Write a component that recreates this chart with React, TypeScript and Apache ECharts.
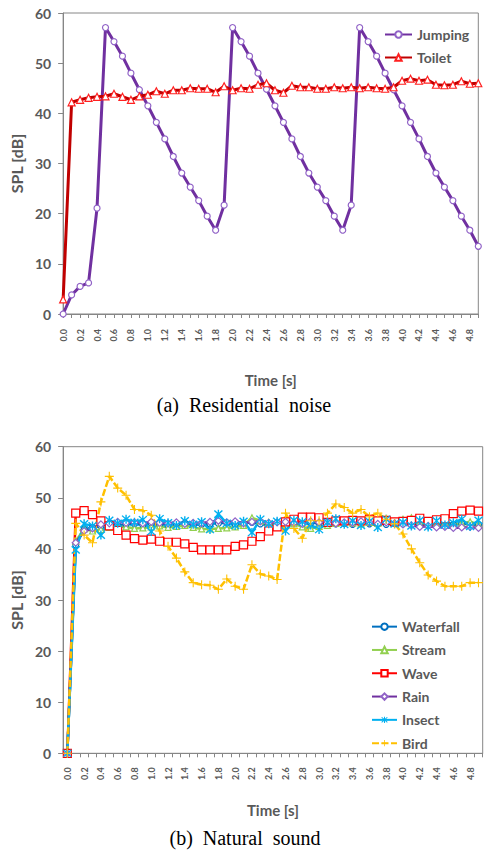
import React, { useEffect, useRef } from 'react';
import * as echarts from 'echarts';

// Time axis categories (seconds)
const timeLabels = [
  '0.0', '0.1', '0.2', '0.3', '0.4', '0.5', '0.6', '0.7', '0.8', '0.9',
  '1.0', '1.1', '1.2', '1.3', '1.4', '1.5', '1.6', '1.7', '1.8', '1.9',
  '2.0', '2.1', '2.2', '2.3', '2.4', '2.5', '2.6', '2.7', '2.8', '2.9',
  '3.0', '3.1', '3.2', '3.3', '3.4', '3.5', '3.6', '3.7', '3.8', '3.9',
  '4.0', '4.1', '4.2', '4.3', '4.4', '4.5', '4.6', '4.7', '4.8', '4.9',
];

// (a) Residential noise, SPL in dB
const jumping = [
  0, 3.8, 5.5, 6.2, 21.1, 57.1, 54.3, 51.4, 48.0, 44.7,
  41.5, 38.2, 34.9, 31.4, 28.1, 25.3, 22.6, 19.5, 16.7, 21.7,
  57.1, 54.3, 51.4, 48.0, 44.8, 41.5, 38.2, 34.9, 31.4, 28.1,
  25.3, 22.6, 19.5, 16.7, 21.7, 57.1, 54.3, 51.4, 48.0, 44.7,
  41.5, 38.2, 34.9, 31.4, 28.1, 25.3, 22.6, 19.5, 16.7, 13.5,
];
const toilet = [
  2.9, 42.2, 42.7, 43.1, 43.3, 43.4, 43.9, 43.3, 42.7, 43.4,
  43.7, 44.4, 43.9, 44.6, 44.6, 45.0, 44.9, 44.9, 44.2, 45.4,
  44.6, 45.0, 44.9, 45.7, 46.0, 44.6, 44.1, 45.5, 45.2, 45.2,
  44.9, 44.9, 45.2, 45.0, 45.2, 45.0, 45.2, 45.0, 44.9, 45.2,
  46.5, 46.9, 46.5, 46.7, 45.7, 45.6, 45.7, 46.4, 45.9, 46.0,
];

// (b) Natural sound, SPL in dB
const waterfall = [
  0, 40.8, 43.8, 44.2, 44.5, 45.0, 44.6, 44.8, 44.9, 44.7,
  45.0, 44.8, 44.6, 44.9, 45.0, 44.7, 44.8, 44.9, 45.0, 45.1,
  44.8, 45.0, 45.2, 44.9, 44.6, 44.8, 45.2, 45.0, 44.9, 45.1,
  45.0, 45.2, 44.9, 45.0, 44.8, 45.1, 44.9, 45.0, 44.8, 45.0,
  44.9, 44.8, 44.7, 44.9, 44.6, 44.8, 44.7, 44.9, 44.8, 44.7,
];
const stream = [
  0, 41.5, 43.9, 43.5, 43.8, 44.2, 44.4, 44.3, 44.0, 44.1,
  44.3, 44.5, 44.2, 44.4, 44.6, 44.2, 43.9, 43.9, 44.0, 44.1,
  44.3, 44.6, 46.1, 45.5, 45.2, 44.8, 45.6, 44.9, 44.3, 44.0,
  44.4, 44.6, 45.0, 45.3, 45.1, 44.9, 45.2, 45.0, 45.4, 45.3,
  45.8, 46.1, 45.5, 45.3, 45.0, 45.2, 44.9, 45.0, 45.3, 44.8,
];
const wave = [
  0, 47.0, 47.5, 46.7, 45.5, 44.5, 43.6, 42.7, 42.0, 41.7,
  41.9, 41.5, 41.3, 41.3, 41.0, 40.3, 39.8, 39.8, 39.8, 39.8,
  40.5, 40.8, 41.5, 42.4, 43.5, 44.3, 45.3, 45.8, 46.2, 46.2,
  46.1, 45.2, 45.5, 45.5, 45.6, 45.5, 45.8, 45.5, 45.6, 45.3,
  45.4, 45.6, 46.0, 45.4, 45.7, 45.9, 46.9, 47.4, 47.6, 47.4,
];
const rain = [
  0, 41.2, 43.5, 44.0, 44.8, 45.0, 45.3, 45.1, 45.2, 45.0,
  45.3, 45.1, 45.0, 45.2, 44.9, 45.1, 45.0, 45.3, 45.5, 45.2,
  45.4, 45.0, 45.3, 45.4, 45.1, 45.2, 45.3, 45.1, 44.9, 45.4,
  45.2, 45.3, 45.0, 45.2, 45.1, 45.4, 45.2, 44.9, 45.2, 45.0,
  44.8, 44.6, 44.3, 44.5, 44.2, 44.3, 44.1, 44.2, 44.3, 44.1,
];
const insect = [
  0, 39.8, 44.9, 44.5, 42.7, 45.6, 45.0, 45.8, 45.2, 45.7,
  43.4, 45.9, 45.1, 44.6, 45.5, 44.8, 45.3, 43.8, 46.8, 45.0,
  44.6, 45.4, 43.2, 45.8, 44.9, 45.4, 43.5, 45.6, 45.3, 44.7,
  43.8, 45.2, 45.9, 44.8, 45.5, 44.6, 45.4, 44.2, 45.8, 44.9,
  45.2, 44.5, 45.6, 44.3, 45.5, 44.7, 45.1, 45.8, 44.4, 45.6,
];
const bird = [
  0, 45.0, 42.7, 41.2, 49.2, 54.2, 51.9, 50.5, 47.7, 47.5,
  46.6, 43.5, 40.5, 38.2, 35.5, 33.4, 33.0, 32.9, 32.1, 34.1,
  32.7, 32.1, 36.9, 35.1, 34.7, 34.0, 47.0, 44.0, 42.1, 45.5,
  45.5, 47.0, 48.8, 48.1, 47.0, 47.7, 46.3, 47.0, 45.8, 44.9,
  42.9, 40.0, 37.3, 34.9, 33.7, 32.7, 32.7, 32.7, 33.4, 33.4,
];

const textGray = '#595959';
const lineGray = '#868686';
const sans = 'Lato, "Noto Sans", sans-serif';
const serif = '"Liberation Serif", "Times New Roman", serif';

// Filled star marker: one vertical bar and two diagonal bars, same winding
const asteriskSymbol =
  'path://M4.3,0L5.7,0L5.7,10L4.3,10Z' +
  'M0.5,1.5L1.5,0.5L9.5,8.5L8.5,9.5Z' +
  'M0.5,8.5L8.5,0.5L9.5,1.5L1.5,9.5Z';
// Filled plus marker
const plusSymbol = 'path://M4.4,0L5.6,0L5.6,4.4L10,4.4L10,5.6L5.6,5.6L5.6,10L4.4,10L4.4,5.6L0,5.6L0,4.4L4.4,4.4Z';

function makeXAxis(gridIndex: number, boundaryGap: boolean, labelMargin: number, nameGap: number) {
  return {
    type: 'category',
    gridIndex,
    data: timeLabels,
    boundaryGap,
    name: 'Time [s]',
    nameLocation: 'middle',
    nameGap,
    nameTextStyle: { color: textGray, fontFamily: sans, fontWeight: 'bold', fontSize: 15 },
    axisLine: { show: true, lineStyle: { color: lineGray, width: 1 } },
    axisTick: { show: true, interval: 0, length: 4, lineStyle: { color: lineGray, width: 1 } },
    axisLabel: {
      interval: 1,
      rotate: 90,
      margin: labelMargin,
      color: textGray,
      fontFamily: sans,
      fontWeight: 'bold',
      fontSize: 9,
    },
    splitLine: { show: false },
  };
}

function makeYAxis(gridIndex: number) {
  return {
    type: 'value',
    gridIndex,
    min: 0,
    max: 60,
    interval: 10,
    name: 'SPL [dB]',
    nameLocation: 'middle',
    nameGap: 36,
    nameTextStyle: { color: textGray, fontFamily: sans, fontWeight: 'bold', fontSize: 16 },
    axisLine: { show: true, lineStyle: { color: lineGray, width: 1 } },
    axisTick: { show: true, length: 5, lineStyle: { color: lineGray, width: 1 } },
    axisLabel: { margin: 12, color: textGray, fontFamily: sans, fontWeight: 'bold', fontSize: 14 },
    splitLine: { show: false },
  };
}

function lineSeries(
  name: string,
  data: number[],
  axis: number,
  color: string,
  symbol: string,
  symbolSize: number,
  markerFill: string,
  markerBorder: string,
  borderWidth: number,
  width: number,
  dashed?: number[],
) {
  return {
    name,
    type: 'line',
    xAxisIndex: axis,
    yAxisIndex: axis,
    data,
    symbol,
    symbolSize,
    showAllSymbol: true,
    color,
    lineStyle: { color, width, type: dashed ? dashed : 'solid' },
    itemStyle: { color: markerFill, borderColor: markerBorder, borderWidth },
    emphasis: { disabled: true },
  };
}

const legendText = { color: textGray, fontFamily: sans, fontWeight: 'bold', fontSize: 14 };

export default function App() {
  const ref = useRef<HTMLDivElement>(null);

  useEffect(() => {
    document.body.style.margin = '0';
    if (!ref.current) return;
    const chart = echarts.init(ref.current, undefined, { renderer: 'svg' });

    chart.setOption({
      animation: false,
      backgroundColor: '#ffffff',
      grid: [
        { left: 61.7, right: 8.7, top: 13, height: 301, show: true, borderColor: lineGray, borderWidth: 1 },
        { left: 61.7, right: 4.3, top: 446.7, height: 306.6, show: true, borderColor: lineGray, borderWidth: 1 },
      ],
      xAxis: [makeXAxis(0, false, 15, 58), makeXAxis(1, true, 14, 49)],
      yAxis: [makeYAxis(0), makeYAxis(1)],
      legend: [
        {
          data: ['Jumping', 'Toilet'],
          orient: 'vertical',
          left: 384,
          top: 26,
          itemWidth: 27,
          itemHeight: 8,
          itemGap: 6,
          textStyle: { ...legendText, lineHeight: 17 },
          padding: 0,
        },
        {
          data: ['Waterfall', 'Stream', 'Wave', 'Rain', 'Insect', 'Bird'],
          orient: 'vertical',
          left: 371,
          top: 618,
          itemWidth: 25,
          itemHeight: 8,
          itemGap: 6,
          textStyle: { ...legendText, lineHeight: 17.3 },
          padding: 0,
        },
      ],
      series: [
        lineSeries('Jumping', jumping, 0, '#7030A0', 'circle', 6, '#ffffff', '#9163C7', 1.2, 3),
        lineSeries('Toilet', toilet, 0, '#C00000', 'triangle', 7, '#ffffff', '#FF2020', 1.2, 3),
        lineSeries('Waterfall', waterfall, 1, '#0070C0', 'circle', 6, '#ffffff', '#0070C0', 1.2, 2.5),
        lineSeries('Stream', stream, 1, '#92D050', 'triangle', 6, '#ffffff', '#92D050', 1.2, 2.5),
        lineSeries('Wave', wave, 1, '#FF0000', 'rect', 8, '#ffffff', '#FF0000', 1.2, 2.5),
        lineSeries('Rain', rain, 1, '#7030A0', 'diamond', 7, '#ffffff', '#9163C7', 1.2, 2.5),
        lineSeries('Insect', insect, 1, '#00B0F0', asteriskSymbol, 9, '#00B0F0', '#00B0F0', 0, 2.5),
        lineSeries('Bird', bird, 1, '#FFC000', plusSymbol, 9, '#FFC000', '#FFC000', 0, 2.5, [7, 2.5]),
      ],
      graphic: [
        {
          type: 'text',
          x: 244,
          y: 405,
          style: {
            text: '(a)  Residential  noise',
            fill: '#000000',
            fontFamily: serif,
            fontSize: 20,
            align: 'center',
            verticalAlign: 'middle',
            textAlign: 'center',
            textVerticalAlign: 'middle',
          },
        },
        {
          type: 'text',
          x: 245,
          y: 838,
          style: {
            text: '(b)  Natural  sound',
            fill: '#000000',
            fontFamily: serif,
            fontSize: 20,
            align: 'center',
            verticalAlign: 'middle',
            textAlign: 'center',
            textVerticalAlign: 'middle',
          },
        },
      ],
    });

    return () => {
      chart.dispose();
    };
  }, []);

  return <div ref={ref} style={{ width: 487, height: 853 }} />;
}
